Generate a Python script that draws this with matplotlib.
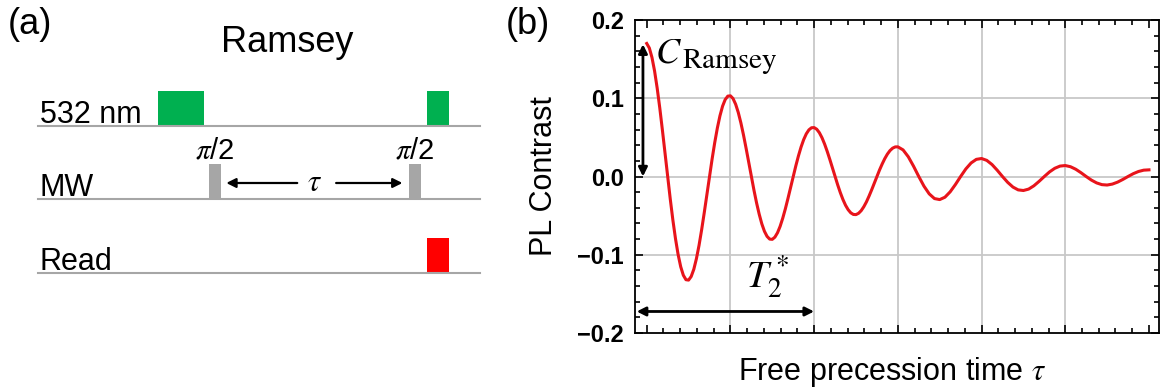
import numpy as np
import matplotlib
matplotlib.use("Agg")
import matplotlib.pyplot as plt
from matplotlib.patches import Rectangle
from matplotlib.ticker import MultipleLocator

plt.rcParams['font.family'] = ['Liberation Sans', 'DejaVu Sans']
plt.rcParams['mathtext.fontset'] = 'stix'

# ---- panel (a): Ramsey pulse sequence (time in arbitrary units) ----
channels = ["532 nm", "MW", "Read"]
pulse_channel = [0, 0, 1, 1, 2]
pulse_start = [0.0, 11.7, 2.2, 10.9, 11.7]
pulse_stop = [2.0, 12.65, 2.75, 11.45, 12.65]
pulse_labels = ["", "", r"$\pi$/2", r"$\pi$/2", ""]
seq_start, seq_stop = -5.2, 14.0

# ---- panel (b): Ramsey fringe ----
# first three periods every 1/32 unit
contrast_early = [
    0.170, 0.1642, 0.1522, 0.1349, 0.1129, 0.0874, 0.0592, 0.0297,
    0.0, -0.0288, -0.0557, -0.0795, -0.0997, -0.1154, -0.1262, -0.1319,
    -0.1324, -0.1278, -0.1186, -0.1050, -0.0880, -0.0680, -0.0461, -0.0232,
    0.0, 0.0224, 0.0433, 0.0619, 0.0776, 0.0899, 0.0983, 0.1027,
    0.1031, 0.0996, 0.0923, 0.0818, 0.0685, 0.0530, 0.0359, 0.0180,
    0.0, -0.0175, -0.0338, -0.0482, -0.0605, -0.0700, -0.0765, -0.0800,
    -0.0803, -0.0775, -0.0719, -0.0637, -0.0533, -0.0413, -0.0280, -0.0140,
    0.0, 0.0136, 0.0263, 0.0376, 0.0471, 0.0545, 0.0596, 0.0623,
    0.0625, 0.0604, 0.0560, 0.0496, 0.0415, 0.0321, 0.0218, 0.0109,
    0.0, -0.0106, -0.0205, -0.0293, -0.0367, -0.0424, -0.0464, -0.0485,
    -0.0487, -0.0470, -0.0436, -0.0386, -0.0324, -0.0250, -0.0170, -0.0085,
    0.0, 0.0083, 0.0159, 0.0228, 0.0286, 0.0331, 0.0362, 0.0378,
]
# last three periods every 1/16 unit
contrast_late = [
    0.0379, 0.0340, 0.0252, 0.0132, 0.0, -0.0124, -0.0222, -0.0282,
    -0.0295, -0.0265, -0.0196, -0.0103, 0.0, 0.0097, 0.0173, 0.0219,
    0.0230, 0.0206, 0.0153, 0.0080, 0.0, -0.0075, -0.0135, -0.0171,
    -0.0179, -0.0161, -0.0119, -0.0062, 0.0, 0.0059, 0.0105, 0.0133,
    0.0140, 0.0125, 0.0093, 0.0049, 0.0, -0.0046, -0.0082, -0.0104,
    -0.0109, -0.0097, -0.0072, -0.0038, 0.0, 0.0036, 0.0064, 0.0081,
    0.0085,
]
tau = np.concatenate([np.arange(len(contrast_early)) / 32,
                      3 + np.arange(len(contrast_late)) / 16])
contrast = contrast_early + contrast_late
c_ramsey = 0.17
t2_star = 2.0

fig = plt.figure(figsize=(11.61, 3.92), dpi=100)

# panel (a)
ax_a = fig.add_axes([0, 0, 580 / 1161, 1])
ax_a.set_xlim(-6.87, 18.35)
ax_a.set_ylim(392, 0)
ax_a.axis('off')

row_y = [126, 199, 273]
pulse_h = 35
colors = ['#00b050', '#00b050', '#a6a6a6', '#a6a6a6', '#ff0000']

for i, name in enumerate(channels):
    ax_a.plot([seq_start, seq_stop], [row_y[i], row_y[i]], color='#a6a6a6', lw=1.5)
    ax_a.text(seq_start + 0.05, row_y[i] - 3, name, fontsize=22,
              ha='left', va='baseline')

for ch, t0, t1, lab, col in zip(pulse_channel, pulse_start, pulse_stop, pulse_labels, colors):
    ax_a.add_patch(Rectangle((t0, row_y[ch] - pulse_h), t1 - t0, pulse_h,
                             facecolor=col, edgecolor='none'))
    if lab:
        ax_a.text((t0 + t1) / 2, row_y[ch] - pulse_h - 6, lab, fontsize=21,
                  ha='center', va='baseline')

# tau arrows between the two pi/2 pulses
mid = (pulse_stop[2] + pulse_start[3]) / 2
ax_a.text(mid, 183, r"$\tau$", fontsize=22, ha='center', va='center')
ax_a.annotate('', xy=(pulse_stop[2] + 0.1, 183), xytext=(mid - 0.65, 183),
              arrowprops=dict(arrowstyle='-|>', color='black', lw=1.6, mutation_scale=14))
ax_a.annotate('', xy=(pulse_start[3] - 0.15, 183), xytext=(mid + 0.8, 183),
              arrowprops=dict(arrowstyle='-|>', color='black', lw=1.6, mutation_scale=14))

ax_a.text(5.6, 52, "Ramsey", fontsize=26, ha='center', va='baseline')
fig.text(30 / 1161, 1 - 25 / 392, "(a)", fontsize=26, ha='center', va='center')
fig.text(528 / 1161, 1 - 25 / 392, "(b)", fontsize=26, ha='center', va='center')

# panel (b)
ax = fig.add_axes([635 / 1161, 59 / 392, 524 / 1161, 313 / 392])
ax.plot(tau, contrast, color='#e8141b', lw=2.2, solid_joinstyle='round', zorder=3)
ax.set_xlim(-0.14, 6.12)
ax.set_ylim(-0.2, 0.2)

ax.xaxis.set_major_locator(MultipleLocator(1))
ax.xaxis.set_minor_locator(MultipleLocator(0.2))
ax.yaxis.set_major_locator(MultipleLocator(0.1))
ax.yaxis.set_minor_locator(MultipleLocator(0.02))
ax.tick_params(which='both', direction='in', top=True, right=True, width=1.2)
ax.tick_params(which='major', length=6)
ax.tick_params(which='minor', length=3.5)
ax.tick_params(axis='x', labelbottom=False)
ax.tick_params(axis='y', labelsize=17, pad=8)
ax.set_yticks([-0.2, -0.1, 0.0, 0.1, 0.2])
ax.set_yticklabels(['\u22120.2', '\u22120.1', '0.0', '0.1', '0.2'], fontweight='bold')
for s in ax.spines.values():
    s.set_linewidth(1.3)

for g in [1, 2, 3, 4, 5]:
    ax.axvline(g, color='#c8c8c8', lw=1.3, zorder=1)
for g in [-0.1, 0.0, 0.1]:
    ax.axhline(g, color='#c8c8c8', lw=1.3, zorder=1)

ax.set_ylabel("PL Contrast", fontsize=22)
ax.yaxis.set_label_coords(-0.145, 0.5)
ax.set_xlabel(r"Free precession time $\tau$", fontsize=22)
ax.xaxis.set_label_coords(0.49, -0.07)

# annotations
ax.annotate('', xy=(-0.045, c_ramsey - 0.001), xytext=(-0.045, 0.0),
            arrowprops=dict(arrowstyle='<|-|>', color='black', lw=2, mutation_scale=13,
                            shrinkA=0, shrinkB=0))
ax.text(0.10, 0.1463, r"$C$", fontsize=26, ha='left', va='baseline')
ax.text(0.42, 0.1387, r"$\mathrm{Ramsey}$", fontsize=21, ha='left', va='baseline')
ax.annotate('', xy=(-0.12, -0.1725), xytext=(t2_star, -0.1725),
            arrowprops=dict(arrowstyle='<|-|>', color='black', lw=2, mutation_scale=13,
                            shrinkA=0, shrinkB=0))
ax.text(1.45, -0.128, r"$T_2^*$", fontsize=28, ha='center', va='center')

fig.savefig("out.png", dpi=100)
